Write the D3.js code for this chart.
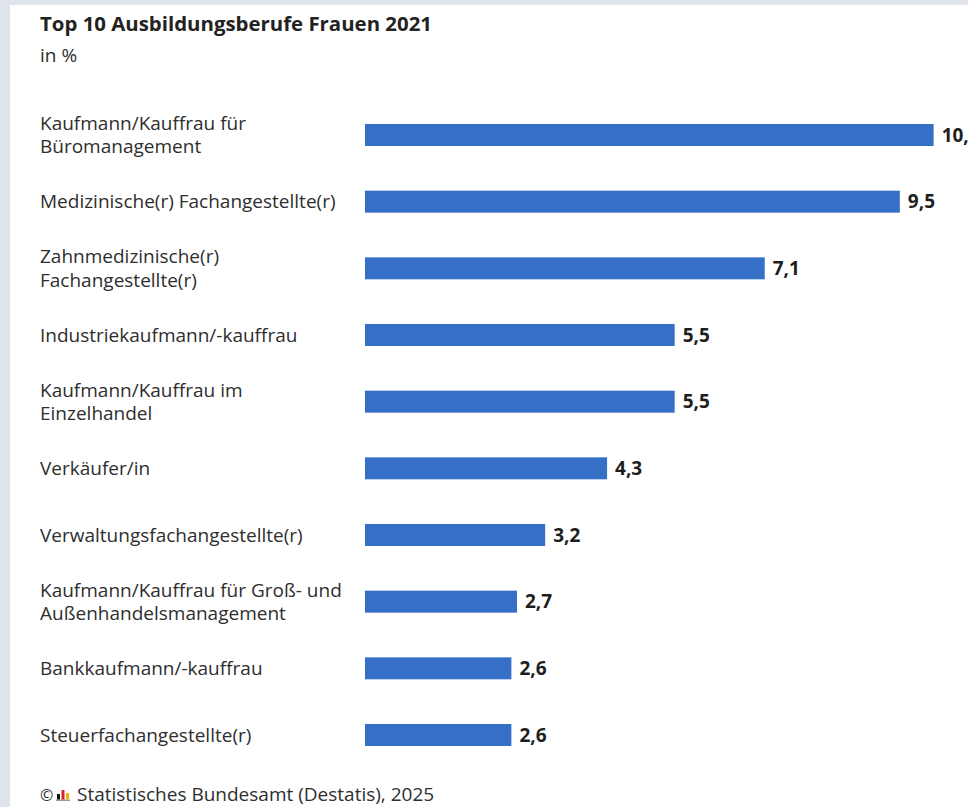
<!DOCTYPE html>
<html>
<head>
<meta charset="utf-8">
<script src="https://cdn.jsdelivr.net/npm/d3@7"></script>
<style>
  html, body { margin: 0; padding: 0; background: #dfe3ea; overflow: hidden; }
  #chart { position: absolute; left: 10px; top: 5px; width: 958px; height: 802px; background: #fff; overflow: hidden; }
  svg text { font-family: "Open Sans", "Noto Sans", sans-serif; fill: #2e2e2e; }
  .title { font-weight: 700; font-size: 20.4px; fill: #222; }
  .subtitle { font-size: 19px; }
  .cat { font-size: 19px; }
  .val { font-size: 19px; font-weight: 700; fill: #1e1e1e; }
  .source { font-size: 19px; }
  .copy { font-size: 16px; }
</style>
</head>
<body>
<div id="chart"></div>
<script>
// ====== Top 10 Ausbildungsberufe Frauen 2021 ======

let categories = [
    ["Kaufmann/Kauffrau für", "Büromanagement"],
    ["Medizinische(r) Fachangestellte(r)"],
    ["Zahnmedizinische(r)", "Fachangestellte(r)"],
    ["Industriekaufmann/-kauffrau"],
    ["Kaufmann/Kauffrau im", "Einzelhandel"],
    ["Verkäufer/in"],
    ["Verwaltungsfachangestellte(r)"],
    ["Kaufmann/Kauffrau für Groß- und", "Außenhandelsmanagement"],
    ["Bankkaufmann/-kauffrau"],
    ["Steuerfachangestellte(r)"]
];

let values = [10.1, 9.5, 7.1, 5.5, 5.5, 4.3, 3.2, 2.7, 2.6, 2.6];

let titleText = "Top 10 Ausbildungsberufe Frauen 2021",
    unitText = "in %",
    sourceText = "Statistisches Bundesamt (Destatis), 2025";

function buildChart () {
    let width = 958, height = 802;
    let margin = {left: 355, top: 119, bottom: 61};

    let svg = d3.select("#chart").append("svg")
        .attr("width", width)
        .attr("height", height);

    let x = d3.scaleLinear()
        .domain([0, 10])
        .range([margin.left, margin.left + 563]);

    let y = d3.scaleBand()
        .domain(d3.range(values.length))
        .range([margin.top, height - margin.bottom])
        .paddingInner(0.67)
        .paddingOuter(0);

    let fmt = function(v) { return d3.format(".1f")(v).replace(".", ","); };

    // title + unit
    svg.append("text")
        .attr("class", "title")
        .attr("x", 30).attr("y", 26)
        .text(titleText);

    svg.append("text")
        .attr("class", "subtitle")
        .attr("x", 30).attr("y", 57)
        .text(unitText);

    // bars
    svg.selectAll(".bar")
        .data(values)
        .enter().append("rect")
        .attr("class", "bar")
        .attr("x", x(0))
        .attr("y", function(d, i) { return y(i); })
        .attr("width", function(d) { return x(d) - x(0); })
        .attr("height", y.bandwidth())
        .style("fill", "#3670c6");

    // value labels
    svg.selectAll(".val")
        .data(values)
        .enter().append("text")
        .attr("class", "val")
        .attr("x", function(d) { return x(d) + 8; })
        .attr("y", function(d, i) { return y(i) + y.bandwidth() / 2; })
        .attr("dy", "0.35em")
        .text(fmt);

    // category labels
    let cats = svg.selectAll(".cat")
        .data(categories)
        .enter().append("text")
        .attr("class", "cat")
        .attr("x", 30)
        .attr("y", function(d, i) { return y(i) + y.bandwidth() / 2; });

    cats.selectAll("tspan")
        .data(function(d) { return d.map(function(t, j) { return {t: t, j: j, n: d.length}; }); })
        .enter().append("tspan")
        .attr("x", 30)
        .attr("dy", function(d) {
            if (d.j > 0) return "23.5px";
            return (0.35 * 19 - (d.n - 1) * 11.75) + "px";
        })
        .text(function(d) { return d.t; });

    // source line with logo
    let src = svg.append("g").attr("transform", "translate(30," + (height - 6) + ")");
    src.append("text")
        .attr("class", "copy")
        .attr("x", 0)
        .text("©");
    let logo = src.append("g").attr("transform", "translate(16,0)");
    logo.append("rect").attr("x", 0).attr("y", -1.5).attr("width", 14).attr("height", 1.5).style("fill", "#999");
    logo.append("rect").attr("x", 1).attr("y", -7).attr("width", 3).attr("height", 5.5).style("fill", "#111");
    logo.append("rect").attr("x", 5.5).attr("y", -11).attr("width", 3).attr("height", 9.5).style("fill", "#d2232a");
    logo.append("rect").attr("x", 10).attr("y", -8).attr("width", 3).attr("height", 6.5).style("fill", "#f0b400");
    src.append("text")
        .attr("class", "source")
        .attr("x", 37)
        .text(sourceText);
}

buildChart();
</script>
</body>
</html>
